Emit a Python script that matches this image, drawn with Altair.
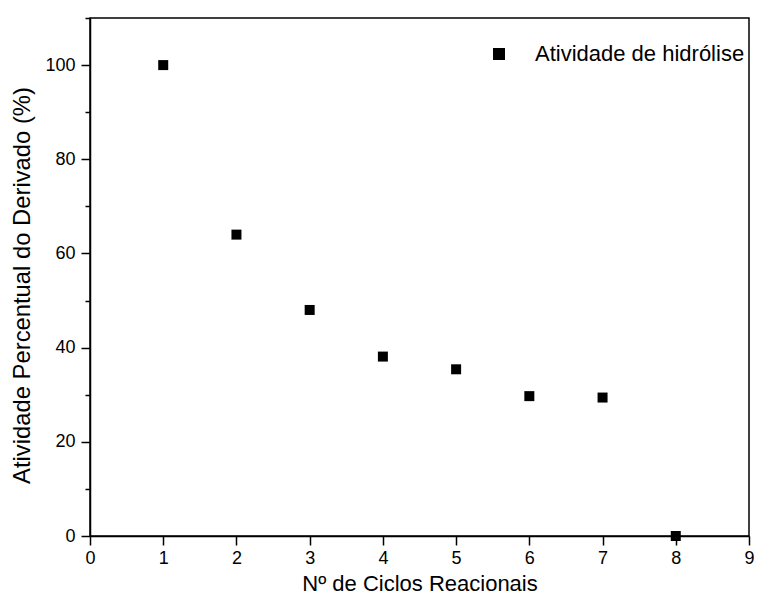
import altair as alt
import pandas as pd

cycles = [1, 2, 3, 4, 5, 6, 7, 8]
activity = [100, 64, 48, 38.1, 35.4, 29.7, 29.4, 0]
series = ["Atividade de hidrólise"] * len(cycles)

x_ticks = [i * 0.5 for i in range(0, 19)]
y_ticks = list(range(0, 111, 10))

df = pd.DataFrame({"ciclo": cycles, "atividade": activity, "serie": series})

font = "Liberation Sans"

chart = alt.Chart(df).mark_point(shape="square", filled=True, size=100, opacity=1).encode(
    x=alt.X("ciclo:Q", scale=alt.Scale(domain=[0, 9], nice=False, zero=False),
            axis=alt.Axis(title="Nº de Ciclos Reacionais", values=x_ticks, format="d",
                          labelExpr="datum.value % 1 ? '' : datum.label",
                          tickSize={"condition": {"test": "datum.value % 1", "value": 5}, "value": 9},
                          grid=False, labelFontSize=18, titleFontSize=22,
                          titleFontWeight="normal", labelPadding=4, titlePadding=6,
                          domainWidth=1.5, tickWidth=1.5, labelFlush=False)),
    y=alt.Y("atividade:Q", scale=alt.Scale(domain=[0, 110], nice=False),
            axis=alt.Axis(title="Atividade Percentual do Derivado (%)", values=y_ticks, format="d",
                          labelExpr="(datum.value % 20 || datum.value > 100) ? '' : datum.label",
                          tickSize={"condition": {"test": "datum.value % 20 || datum.value > 100", "value": 5}, "value": 9},
                          grid=False, labelFontSize=18, titleFontSize=23.8,
                          titleFontWeight="normal", labelPadding=6, titlePadding=10,
                          titleY=267,
                          domainWidth=1.5, tickWidth=1.5)),
    color=alt.Color("serie:N", scale=alt.Scale(range=["black"]),
                    legend=alt.Legend(title=None, orient="none", legendX=398, legendY=25,
                                      symbolSize=144, symbolType="square", labelFontSize=22,
                                      labelLimit=0,
                                      labelFont=font, labelOffset=25, symbolStrokeWidth=0)),
).properties(
    width=659, height=518,
    padding={"left": 82, "top": 10, "right": 7, "bottom": 58},
    autosize=alt.AutoSizeParams(type="none"),
).configure_view(
    stroke="black", strokeWidth=1.5
).configure_axis(
    labelFont=font, titleFont=font, domainColor="black", tickColor="black",
    labelColor="black", titleColor="black"
)

chart.save("out.html", embed_options={"renderer": "svg", "actions": False})
